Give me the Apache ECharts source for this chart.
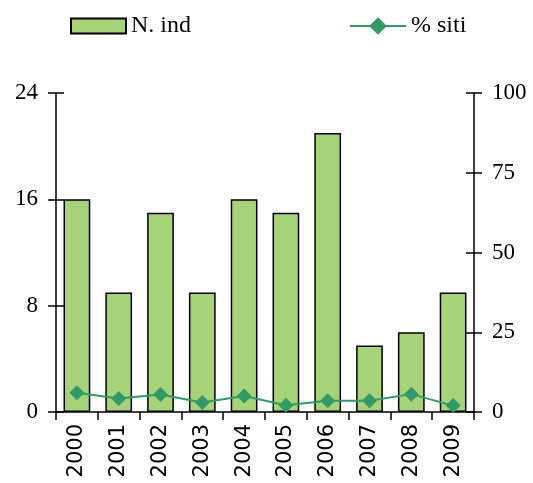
<!DOCTYPE html>
<html>
<head>
<meta charset="utf-8">
<script src="https://cdn.jsdelivr.net/npm/echarts@6/dist/echarts.min.js"></script>
<style>
html,body{margin:0;padding:0;background:#fff;}
#main{width:533px;height:483px;}
</style>
</head>
<body>
<div id="main"></div>
<script>
// dati
var anni = ['2000','2001','2002','2003','2004','2005','2006','2007','2008','2009'];
var nInd = [16, 9, 15, 9, 16, 15, 21, 5, 6, 9];
var siti = [6.0, 4.2, 5.5, 3.0, 5.0, 2.1, 3.5, 3.5, 5.6, 2.0];
var tickSx = [0, 8, 16, 24];
var tickDx = [0, 25, 50, 75, 100];

var chart = echarts.init(document.getElementById('main'));

var serif = 'Liberation Serif';
var nero = {color: '#000', width: 1.5};

function yAx(pos, max, interval, ticks) {
    return {
        type: 'value', position: pos, min: 0, max: max, interval: interval,
        gridIndex: 0,
        axisLine: {show: true, lineStyle: nero},
        axisTick: {show: true, length: 8, lineStyle: nero},
        splitLine: {show: false},
        axisLabel: {
            margin: 18, color: '#000', fontFamily: serif, fontSize: 23,
            formatter: function (v) { return ticks.indexOf(v) >= 0 ? String(v) : ''; }
        }
    };
}
// secondo grid, spostato di 8px verso l'interno: le sue tacche lunghe 16
// attraversano gli assi veri
function yTacche(pos, max, interval) {
    return {
        type: 'value', position: pos, min: 0, max: max, interval: interval,
        gridIndex: 1,
        axisLine: {show: false},
        axisTick: {show: true, length: 16, lineStyle: nero},
        axisLabel: {show: false},
        splitLine: {show: false}
    };
}

var option = {
    animation: false,
    backgroundColor: '#fff',
    legend: [{
        data: [{name: 'N. ind', icon: 'rect'}], left: 70, top: 14, padding: 0,
        itemWidth: 55, itemHeight: 15,
        textStyle: {fontFamily: serif, fontSize: 24, color: '#000'}
    }, {
        data: ['% siti'], left: 349, top: 14, padding: 0,
        itemWidth: 56, itemHeight: 22,
        textStyle: {fontFamily: serif, fontSize: 24, color: '#000'}
    }],
    grid: [
        {left: 56, right: 59, top: 93, bottom: 71},
        {left: 64, right: 67, top: 93, bottom: 71}
    ],
    xAxis: [{
        type: 'category', data: anni, gridIndex: 0,
        axisLine: {show: true, lineStyle: nero},
        axisTick: {show: true, length: 8, lineStyle: nero},
        axisLabel: {
            rotate: 90, color: '#000', margin: 12,
            fontFamily: 'DejaVu Sans', fontSize: 21
        }
    }, {
        type: 'category', data: anni, gridIndex: 1, show: false
    }],
    yAxis: [
        yAx('left', 24, 8, tickSx),
        yAx('right', 100, 25, tickDx),
        yTacche('left', 24, 8),
        yTacche('right', 100, 25)
    ],
    series: [{
        name: 'N. ind', type: 'bar', yAxisIndex: 0,
        data: nInd, barWidth: '64%',
        itemStyle: {color: '#a6d27a', borderColor: '#000', borderWidth: 1.5}
    }, {
        name: '% siti', type: 'line', yAxisIndex: 1,
        data: siti,
        symbol: 'diamond', symbolSize: 15,
        lineStyle: {color: '#339966', width: 2},
        itemStyle: {color: '#339966'}
    },
    // serie vuote per agganciare gli assi delle tacche
    {name: 'tacche-sx', type: 'line', xAxisIndex: 1, yAxisIndex: 2, data: []},
    {name: 'tacche-dx', type: 'line', xAxisIndex: 1, yAxisIndex: 3, data: []}]
};
chart.setOption(option);
</script>
</body>
</html>
